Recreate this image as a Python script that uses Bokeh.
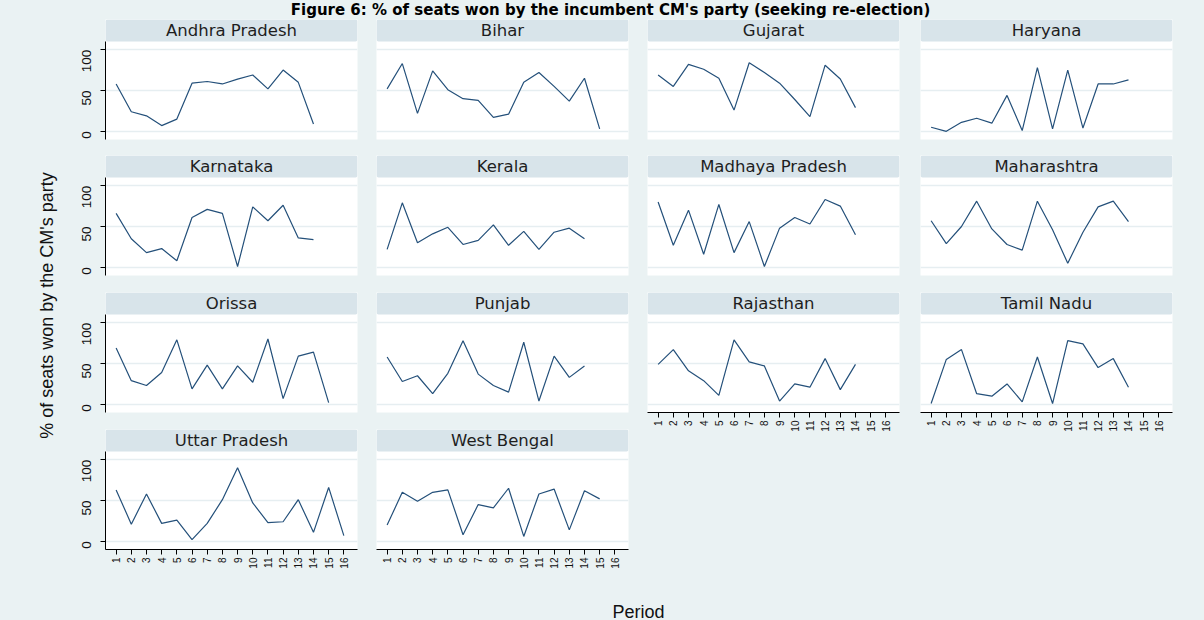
import math

from bokeh.embed import file_html
from bokeh.layouts import column, row
from bokeh.models import (BoxAnnotation, ColumnDataSource, FixedTicker, Grid,
                          Label, LinearAxis, Range1d)
from bokeh.plotting import figure
from bokeh.resources import INLINE

# ---------------------------------------------------------------- texts
TITLE = "Figure 6: % of seats won by the incumbent CM's party (seeking re-election)"
Y_TITLE = "% of seats won by the CM's party"
X_TITLE = "Period"

PERIOD_TICKS = list(range(1, 17))
PERIOD_LABELS = [str(t) for t in PERIOD_TICKS]
Y_TICKS = [0, 50, 100]
Y_LABELS = ["0", "50", "100"]

# ---------------------------------------------------------------- series (% of seats, by period)
andhra_pradesh = [58, 24, 19, 7, 15, 59, 61, 58, 64, 69, 52, 75, 60, 9]
bihar = [52, 83, 22, 74, 51, 40, 38, 17, 21, 60, 72, 55, 37, 65, 3]
gujarat = [69, 55, 82, 76, 65, 26, 84, 72, 59, 39, 18, 81, 64, 29]
haryana = [5, 0, 11, 16, 10, 44, 1, 78, 3, 75, 4, 58, 58, 63]
karnataka = [66, 35, 18, 23, 8, 61, 71, 66, 1, 74, 57, 76, 36, 34]
kerala = [22, 79, 30, 41, 49, 28, 33, 52, 27, 44, 22, 43, 48, 35]
madhya_pradesh = [80, 27, 70, 16, 77, 18, 56, 1, 48, 61, 53, 83, 75, 40]
maharashtra = [57, 29, 50, 81, 47, 28, 21, 81, 46, 5, 43, 74, 81, 56]
orissa = [69, 29, 23, 39, 79, 19, 48, 19, 47, 27, 80, 7, 59, 64, 2]
punjab = [58, 28, 35, 13, 38, 78, 37, 23, 15, 76, 4, 59, 33, 47]
rajasthan = [49, 67, 41, 29, 11, 79, 52, 47, 4, 25, 21, 56, 18, 49]
tamil_nadu = [1, 55, 67, 13, 10, 25, 3, 58, 1, 78, 74, 45, 56, 21]
uttar_pradesh = [63, 21, 58, 22, 26, 2, 22, 51, 90, 47, 23, 24, 51, 11, 66, 7]
west_bengal = [20, 60, 49, 60, 63, 8, 45, 41, 65, 6, 58, 64, 14, 62, 52]

STATES = [
    ("Andhra Pradesh", andhra_pradesh), ("Bihar", bihar),
    ("Gujarat", gujarat), ("Haryana", haryana),
    ("Karnataka", karnataka), ("Kerala", kerala),
    ("Madhaya Pradesh", madhya_pradesh), ("Maharashtra", maharashtra),
    ("Orissa", orissa), ("Punjab", punjab),
    ("Rajasthan", rajasthan), ("Tamil Nadu", tamil_nadu),
    ("Uttar Pradesh", uttar_pradesh), ("West Bengal", west_bengal),
]

# ---------------------------------------------------------------- style
BG = "#eaf2f3"
STRIP = "#d8e4ea"
GRID = "#e6eef1"
LINE = "#24507a"
TEXT = "#111111"
FONT = "Liberation Sans"

N_COLS = 4
FRAME_W, FRAME_H = 252, 120
Y_LO, Y_HI = -10, 110
Y_TOP = Y_HI + (Y_HI - Y_LO) * 22 / 98      # strip band above the plot region
X_LO, X_HI = 0.3, 16.9

COL_LEFT = [43, 0, 0, 0]
COL_RIGHT = [19, 19, 21, 32]
ROW_GAPS = [16, 17, 17]
AXIS_SPACE = 40
HEAD_H = 19
PAGE_W, PAGE_H = 1204, 620


def blank(w, h):
    p = figure(frame_width=w, frame_height=h, x_range=Range1d(0, w), y_range=Range1d(h, 0),
               x_axis_location=None, y_axis_location=None, toolbar_location=None,
               output_backend="svg", title=None,
               min_border=0, min_border_left=0, min_border_right=0,
               min_border_top=0, min_border_bottom=0)
    p.xgrid.visible = False
    p.ygrid.visible = False
    p.outline_line_color = None
    p.background_fill_color = BG
    p.border_fill_color = BG
    return p


def style_axis(ax, size, standoff):
    ax.major_label_orientation = math.pi / 2
    ax.major_label_text_font = FONT
    ax.major_label_text_font_size = size
    ax.major_label_text_color = TEXT
    ax.major_label_standoff = standoff
    ax.axis_line_color = "black"
    ax.major_tick_line_color = "black"
    ax.major_tick_out = 5
    ax.major_tick_in = 0
    ax.minor_tick_line_color = None


def panel(name, values, col, row_idx, show_x):
    bottom = AXIS_SPACE if show_x else ROW_GAPS[row_idx]
    p = figure(frame_width=FRAME_W, frame_height=FRAME_H,
               x_range=Range1d(X_LO, X_HI), y_range=Range1d(Y_LO, Y_TOP),
               x_axis_location=None, y_axis_location=None, toolbar_location=None,
               output_backend="svg", title=None,
               min_border=0, min_border_left=COL_LEFT[col], min_border_right=COL_RIGHT[col],
               min_border_top=0, min_border_bottom=bottom)
    p.xgrid.visible = False
    p.ygrid.visible = False
    p.outline_line_color = None
    p.background_fill_color = "white"
    p.border_fill_color = BG

    p.add_layout(Grid(dimension=1, ticker=FixedTicker(ticks=Y_TICKS),
                      grid_line_color=GRID, grid_line_width=1.5))

    # title strip
    p.add_layout(BoxAnnotation(bottom=Y_HI, fill_color=STRIP, fill_alpha=1.0,
                               line_color=None, border_radius=2))
    p.add_layout(Label(x=(X_LO + X_HI) / 2, y=(Y_HI + Y_TOP) / 2, text=name,
                       text_align="center", text_baseline="middle",
                       text_font="DejaVu Sans", text_font_size="16.5px",
                       text_color="#1e1e1e"))

    src = ColumnDataSource(dict(period=PERIOD_TICKS[:len(values)], share=values))
    p.line("period", "share", source=src, line_color=LINE, line_width=1.2)

    if col == 0:
        ax = LinearAxis(ticker=FixedTicker(ticks=Y_TICKS), bounds=(Y_LO, Y_HI),
                        major_label_overrides=dict(zip(Y_TICKS, Y_LABELS)))
        style_axis(ax, "13.5px", 14)
        p.add_layout(ax, "left")

    if show_x:
        ax = LinearAxis(ticker=FixedTicker(ticks=PERIOD_TICKS),
                        major_label_overrides=dict(zip(PERIOD_TICKS, PERIOD_LABELS)))
        style_axis(ax, "10px", 3)
        p.add_layout(ax, "below")
    return p


columns = []
for c in range(N_COLS):
    members = STATES[c::N_COLS]
    figs = [panel(name, vals, c, i, i == len(members) - 1)
            for i, (name, vals) in enumerate(members)]
    columns.append(column(*figs, spacing=0))

head = blank(PAGE_W, HEAD_H)
head.add_layout(Label(x=610, y=HEAD_H / 2, text=TITLE, text_align="center", text_baseline="middle",
                      text_font="DejaVu Sans", text_font_style="bold", text_font_size="15px",
                      text_color="black"))

body_h = 4 * FRAME_H + sum(ROW_GAPS) + AXIS_SPACE
ylab = blank(62, body_h)
ylab.add_layout(Label(x=46, y=305 - HEAD_H, text=Y_TITLE, angle=math.pi / 2,
                      text_align="center", text_baseline="middle",
                      text_font=FONT, text_font_size="18px", text_color=TEXT))

foot_h = PAGE_H - HEAD_H - body_h
xlab = blank(PAGE_W, foot_h)
xlab.add_layout(Label(x=638, y=foot_h - 9, text=X_TITLE, text_align="center",
                      text_baseline="alphabetic",
                      text_font=FONT, text_font_size="18px", text_color=TEXT))

layout = column(head, row(ylab, *columns, spacing=0), xlab, spacing=0)
layout.styles = {"background-color": BG}

open("out.html", "w").write(file_html(layout, INLINE))
